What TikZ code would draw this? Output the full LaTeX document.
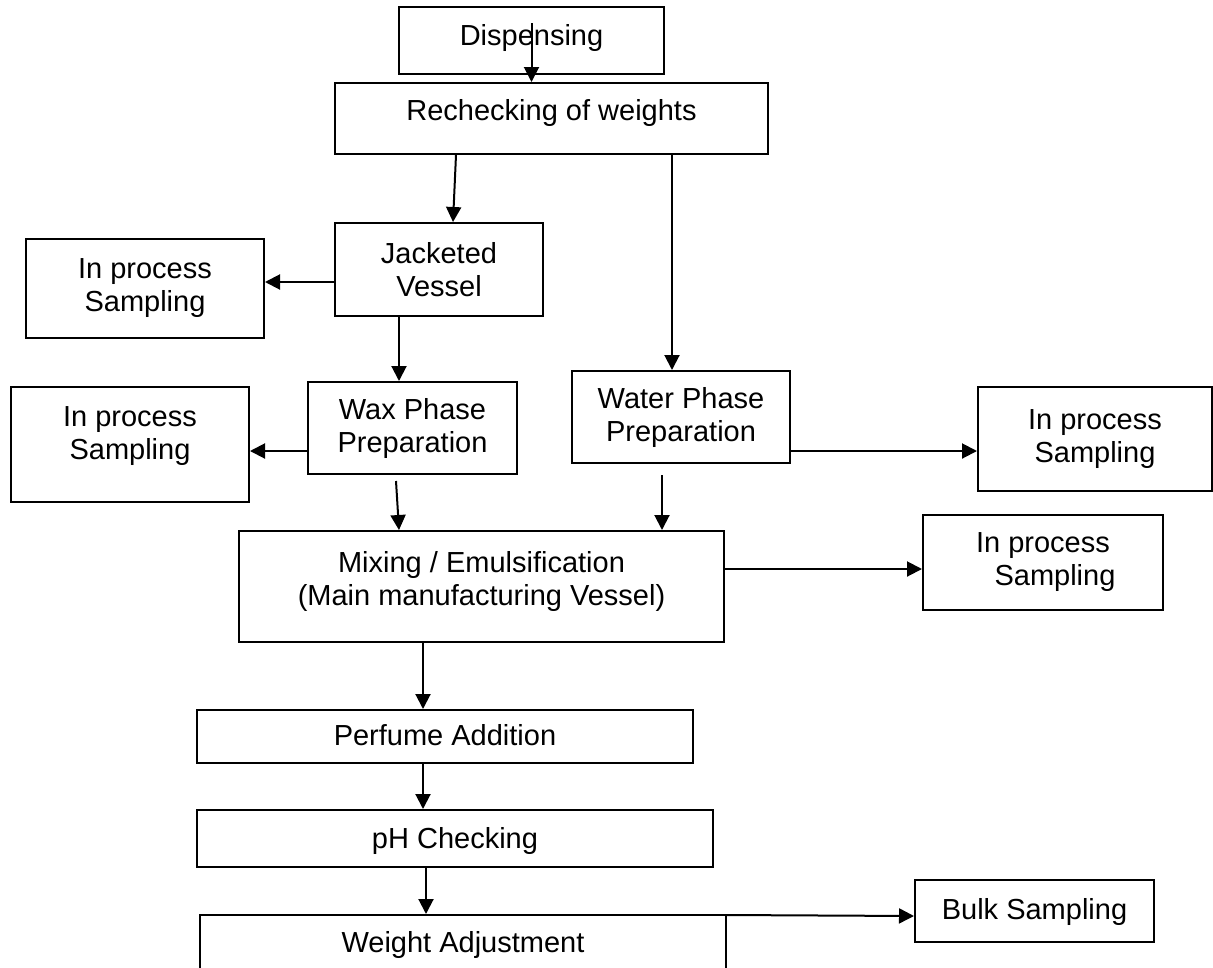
\documentclass[tikz,border=0pt]{standalone}
\usepackage{fontspec}
\setmainfont{Liberation Sans}
\usetikzlibrary{arrows.meta,calc}
\newcommand{\upby}[2]{\raisebox{#1}[\height][\depth]{\begin{tabular}{@{}c@{}}#2\end{tabular}}}
\tikzset{
  box/.style={draw=black, line width=2pt, rectangle, align=center, inner sep=0pt,
              font=\fontsize{29}{33}\selectfont, text=black},
  arr/.style={line width=2pt, -{Triangle[length=15pt,width=15pt]}}
}
\begin{document}
\begin{tikzpicture}[x=1pt,y=-1pt]
\useasboundingbox[fill=white] (0,0) rectangle (1213,967);
% boxes
\node[box, minimum width=265pt, minimum height=67pt] (disp) at (531.5,40.5) {\upby{2pt}{Dispensing}};
\node[box, minimum width=433pt, minimum height=71pt] (rech) at (551.5,118.5) {\upby{5pt}{Rechecking of weights}};
\node[box, minimum width=208pt, minimum height=93pt] (jack) at (439,269.5) {Jacketed\\Vessel};
\node[box, minimum width=238pt, minimum height=99pt] (ips1) at (145,288.5) {In process\\Sampling};
\node[box, minimum width=209pt, minimum height=92pt] (wax) at (412.5,428) {Wax Phase\\Preparation};
\node[box, minimum width=238pt, minimum height=115pt] (ips2) at (130,444.5) {\upby{8pt}{In process\\Sampling}};
\node[box, minimum width=218pt, minimum height=92pt] (water) at (681,417) {Water Phase\\Preparation};
\node[box, minimum width=234pt, minimum height=104pt] (ips3) at (1095,439) {In process\\Sampling};
\node[box, minimum width=485pt, minimum height=111pt] (mix) at (481.5,586.5) {\upby{4pt}{Mixing / Emulsification\\(Main manufacturing Vessel)}};
\node[box, minimum width=240pt, minimum height=95pt] (ips4) at (1043,562.5) {In process\\\hspace*{24pt}Sampling};
\node[box, minimum width=496pt, minimum height=53pt] (perf) at (445,736.5) {\upby{-2pt}{Perfume Addition}};
\node[box, minimum width=516pt, minimum height=57pt] (ph) at (455,838.5) {\upby{-3pt}{pH Checking}};
\node[box, minimum width=526pt, minimum height=60pt] (wt) at (463,945) {Weight Adjustment};
\node[box, minimum width=239pt, minimum height=62pt] (bulk) at (1034.5,911) {\upby{-2pt}{Bulk Sampling}};
% connectors
\draw[arr] ($(disp.north)+(0,17)$) -- (disp.north |- rech.north);
\draw[arr] ($(rech.south west)+(122,0)$) -- ($(jack.north west)+(119,0)$);
\draw[arr] ($(rech.south west)+(338,0)$) -- ($(water.north west)+(101,0)$);
\draw[arr] ($(jack.west)+(0,12.5)$) -- ($(ips1.east |- jack.west)+(0,12.5)$);
\draw[arr] ($(jack.south west)+(65,0)$) -- ($(wax.north west)+(92,0)$);
\draw[arr] ($(wax.west)+(0,23)$) -- ($(ips2.east |- wax.west)+(0,23)$);
\draw[arr] ($(water.east)+(0,34)$) -- ($(ips3.west |- water.east)+(0,34)$);
\draw[arr] ($(wax.south west)+(89,6)$) -- ($(mix.north west)+(161,0)$);
\draw[arr] ($(water.south west)+(91,11)$) -- ($(mix.north west)+(424,0)$);
\draw[arr] ($(mix.east)+(0,-17.5)$) -- ($(ips4.west |- mix.east)+(0,-17.5)$);
\draw[arr] ($(mix.south west)+(185,0)$) -- ($(perf.north west)+(227,0)$);
\draw[arr] ($(perf.south west)+(227,0)$) -- ($(ph.north west)+(227,0)$);
\draw[arr] ($(ph.south west)+(230,0)$) -- ($(wt.north west)+(227,0)$);
\draw[arr] ($(wt.north east)+(0,1)$) -- ($(bulk.west)+(0,5)$);
\end{tikzpicture}
\end{document}
